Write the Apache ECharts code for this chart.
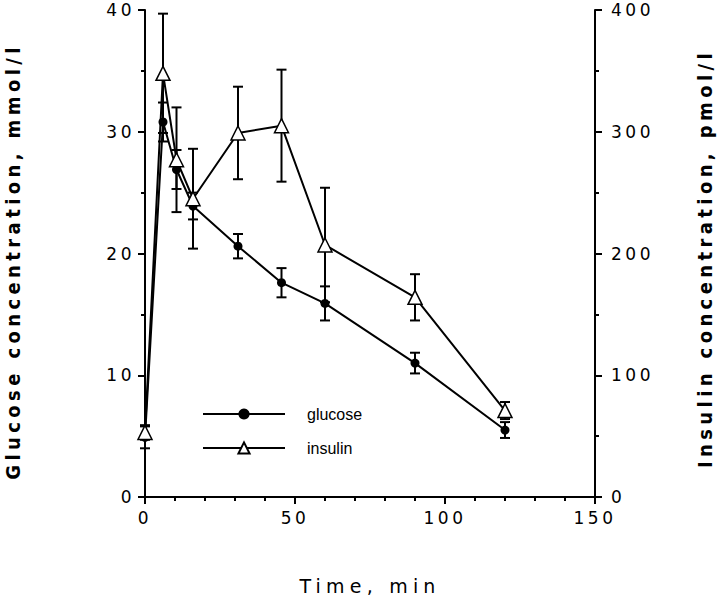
<!DOCTYPE html>
<html>
<head>
<meta charset="utf-8">
<script src="https://cdn.jsdelivr.net/npm/echarts@6/dist/echarts.min.js"></script>
<style>
  html, body { margin: 0; padding: 0; background: #fff; }
  #chart { width: 720px; height: 601px; }
  /* spaced lettering like the original figure */
  #chart text[style*="Condensed"] { letter-spacing: 4.4px; }
  #chart text[style*="Verdana"] { letter-spacing: 3.5px; }
  #chart text[style*="Tahoma"] { letter-spacing: 5.2px; }
</style>
</head>
<body>
<div id="chart"></div>
<script>
  // sampling times, min
  var times = [0, 6, 10.5, 16, 31, 45.5, 60, 90, 120];
  // glucose, mmol/l (mean and error)
  var glucose = [4.9, 30.8, 26.9, 23.9, 20.6, 17.6, 15.9, 11.0, 5.5];
  var glucoseErr = [0.9, 1.6, 1.6, 1.1, 1.0, 1.2, 1.4, 0.85, 0.65];
  // insulin, pmol/l (mean and error)
  var insulin = [53, 348, 277, 245, 299, 305, 207, 164, 71];
  var insulinErr = [6, 49, 43, 41, 38, 46, 47, 19, 7];
  var xTicks = [0, 50, 100, 150];
  var leftTicks = [0, 10, 20, 30, 40];
  var rightTicks = [0, 100, 200, 300, 400];

  var tickFont = "Verdana, 'DejaVu Sans', sans-serif";
  var titleFont = "'DejaVu Sans Condensed', 'Liberation Sans Narrow', 'DejaVu Sans', sans-serif";

  function pairs(vals) {
    return times.map(function (t, i) { return [t, vals[i]]; });
  }
  function bars(vals, errs) {
    return times.map(function (t, i) { return [t, vals[i] - errs[i], vals[i] + errs[i]]; });
  }

  function errorBar(params, api) {
    var x = api.value(0);
    var lo = api.coord([x, api.value(1)]);
    var hi = api.coord([x, api.value(2)]);
    var w = 5;
    var st = { stroke: '#000', lineWidth: 2 };
    return {
      type: 'group',
      children: [
        { type: 'line', shape: { x1: lo[0], y1: lo[1], x2: hi[0], y2: hi[1] }, style: st },
        { type: 'line', shape: { x1: lo[0] - w, y1: lo[1], x2: lo[0] + w, y2: lo[1] }, style: st },
        { type: 'line', shape: { x1: hi[0] - w, y1: hi[1], x2: hi[0] + w, y2: hi[1] }, style: st }
      ]
    };
  }

  var chart = echarts.init(document.getElementById('chart'), null, { renderer: 'svg' });

  var axisCommon = {
    axisLine: { show: true, lineStyle: { color: '#000', width: 2 } },
    axisTick: { show: true, inside: false, length: 7, lineStyle: { color: '#000', width: 2 } },
    minorTick: { show: true, length: 4, lineStyle: { color: '#000', width: 2 } },
    splitLine: { show: false },
    axisLabel: { color: '#000', fontSize: 17, fontFamily: tickFont, margin: 10 }
  };

  var option = {
    animation: false,
    backgroundColor: '#fff',
    grid: { left: 145, right: 125, top: 10, bottom: 104, outerBoundsMode: 'none', containLabel: false },
    legend: {
      data: ['glucose', 'insulin'],
      orient: 'vertical',
      left: 202,
      top: 406,
      padding: 0,
      itemWidth: 82,
      itemHeight: 14,
      itemGap: 18,
      textStyle: { color: '#000', fontSize: 16, fontFamily: "'Liberation Sans', Arial, sans-serif", padding: [0, 0, 0, 17] }
    },
    xAxis: Object.assign({}, axisCommon, {
      type: 'value',
      min: xTicks[0],
      max: xTicks[xTicks.length - 1],
      interval: 50,
      minorTick: Object.assign({}, axisCommon.minorTick, { splitNumber: 5 }),
      axisLabel: Object.assign({}, axisCommon.axisLabel, { margin: 12 }),
      name: 'Time, min',
      nameLocation: 'middle',
      nameGap: 79,
      nameTextStyle: { color: '#000', fontSize: 19, fontFamily: "Tahoma, 'DejaVu Sans', sans-serif" }
    }),
    yAxis: [
      Object.assign({}, axisCommon, {
        type: 'value',
        min: leftTicks[0],
        max: leftTicks[leftTicks.length - 1],
        interval: 10,
        minorTick: Object.assign({}, axisCommon.minorTick, { splitNumber: 2 }),
        axisLabel: Object.assign({}, axisCommon.axisLabel, { margin: 10 }),
        name: 'Glucose concentration, mmol/l',
        nameLocation: 'middle',
        nameRotate: 90,
        nameGap: 122,
        nameTextStyle: { color: '#000', fontSize: 20, fontWeight: 'bold', fontFamily: titleFont, padding: [0, 16, 0, 0] }
      }),
      Object.assign({}, axisCommon, {
        type: 'value',
        position: 'right',
        min: rightTicks[0],
        max: rightTicks[rightTicks.length - 1],
        interval: 100,
        minorTick: Object.assign({}, axisCommon.minorTick, { splitNumber: 2 }),
        axisLabel: Object.assign({}, axisCommon.axisLabel, { margin: 16 }),
        name: 'Insulin concentration, pmol/l',
        nameLocation: 'middle',
        nameRotate: 90,
        nameGap: 100,
        nameTextStyle: { color: '#000', fontSize: 20, fontWeight: 'bold', fontFamily: titleFont, padding: [0, 10, 0, 0] }
      })
    ],
    series: [
      {
        name: 'glucose err',
        type: 'custom',
        yAxisIndex: 0,
        renderItem: errorBar,
        data: bars(glucose, glucoseErr),
        z: 1
      },
      {
        name: 'insulin err',
        type: 'custom',
        yAxisIndex: 1,
        renderItem: errorBar,
        data: bars(insulin, insulinErr),
        z: 1
      },
      {
        name: 'glucose',
        type: 'line',
        yAxisIndex: 0,
        data: pairs(glucose),
        symbol: 'circle',
        symbolSize: 9,
        lineStyle: { color: '#000', width: 2 },
        itemStyle: { color: '#000' },
        z: 2
      },
      {
        name: 'insulin',
        type: 'line',
        yAxisIndex: 1,
        data: pairs(insulin),
        symbol: 'triangle',
        symbolSize: 14,
        lineStyle: { color: '#000', width: 2 },
        itemStyle: { color: '#fff', borderColor: '#000', borderWidth: 1.5 },
        z: 3
      }
    ]
  };

  chart.setOption(option);
</script>
</body>
</html>
